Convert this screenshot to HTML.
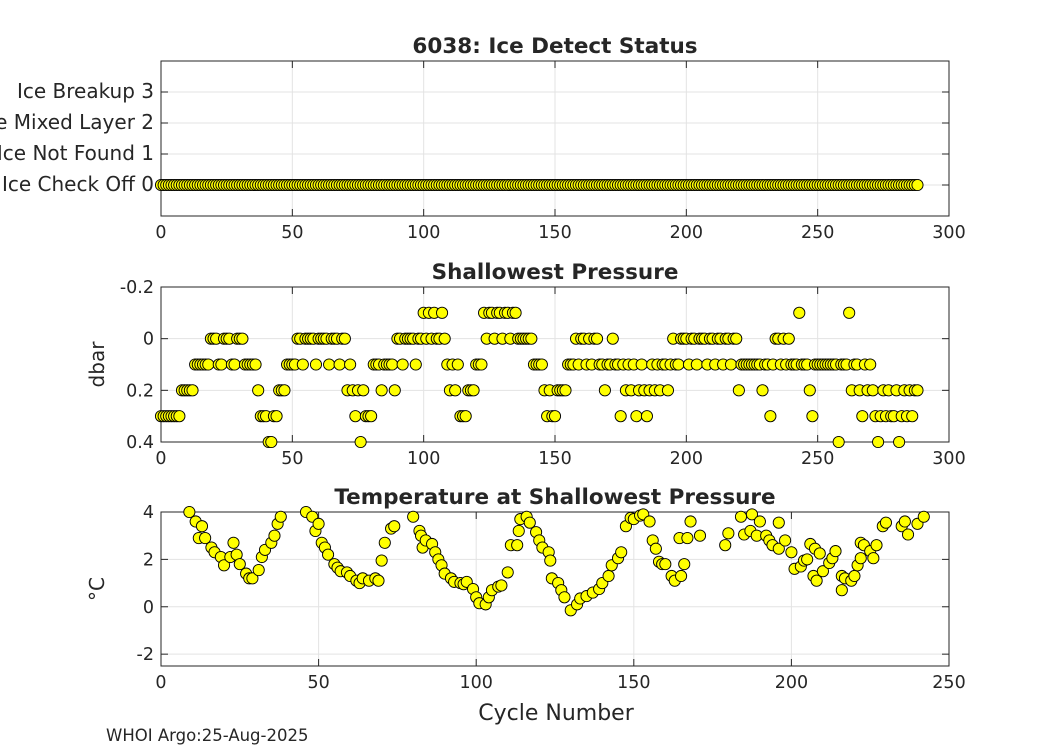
<!DOCTYPE html>
<html><head><meta charset="utf-8"><style>
body{margin:0;background:#fff;font-family:"Liberation Sans","DejaVu Sans",sans-serif}
svg text{font-family:"DejaVu Sans","Liberation Sans",sans-serif;fill:#262626}
</style></head><body>
<svg id="c" width="1050" height="750" xmlns="http://www.w3.org/2000/svg"></svg>
<script>
const iceCycles = Array.from({length:289},(_,i)=>i);
const iceValues = iceCycles.map(()=>0);
const iceTicks=[0,1,2,3];
const iceTickLabels=["Ice Check Off 0","Ice Not Found 1","Ice Mixed Layer 2","Ice Breakup 3"];
const presValues=[.3,.3,.3,.3,.3,.3,.3,.3,.2,.2,.2,.2,.2,.1,.1,.1,.1,.1,.1,
0,0,0,.1,.1,0,0,0,.1,.1,0,0,0,.1,
.1,.1,.1,.1,.2,.3,.3,.3,.4,.4,.3,.3,.2,.2,.2,.1,.1,.1,.1,
0,0,.1,0,0,0,0,.1,0,0,0,0,.1,0,0,0,.1,0,0,
.2,.1,.2,.3,.2,.4,.2,.3,.3,.3,
.1,.1,.1,.2,.1,.1,.1,.1,.2,
0,0,.1,0,0,0,0,.1,0,0,
-.1,0,-.1,0,-.1,0,0,-.1,0,
.1,.2,.1,.2,.1,.3,.3,.3,.2,.2,.2,.1,.1,.1,
-.1,0,-.1,-.1,0,-.1,-.1,0,-.1,-.1,0,-.1,-.1,
0,0,0,0,0,0,.1,.1,.1,.1,.2,
.3,.2,.3,.3,.2,.2,.2,.2,.1,.1,
.1,0,.1,0,0,.1,0,.1,0,0,.1,
.1,.2,.1,.1,0,.1,.1,.3,.1,
.2,.1,.2,.1,.3,.2,.1,.2,.3,.2,
.1,.2,.1,.2,.1,.1,.2,.1,0,.1,.1,
0,0,0,.1,0,0,.1,0,0,0,.1,0,0,.1,0,0,.1,0,0,.1,0,0,.2,.1,.1,
.1,.1,.1,.1,.1,.1,.2,.1,.1,.3,.1,0,0,.1,0,.1,0,.1,.1,.1,
-.1,.1,.1,.1,.2,.3,.1,.1,.1,.1,.1,.1,.1,.1,.1,
.4,.1,.1,.1,-.1,.2,.1,.1,.2,.3,.1,.2,.1,.2,.3,.4,.3,.2,.3,.2,.3,.3,.2,.4,.3,.2,.3,.2,.3,.2,.2];
const presTicks=[-0.2,0,0.2,0.4];
const presTickLabels=["-0.2","0","0.2","0.4"];
const tempCycles=[9,11,12,13,14,16,17,19,20,22,23,24,25,27,28,29,31,32,33,35,36,37,38,
46,48,49,50,51,52,53,55,56,57,59,60,62,63,64,66,68,69,70,71,73,74,
80,82,82.5,83,84,86,87,88,89,90,92,93,95,96,97,99,100,101,103,104,105,107,108,110,111,113,113.5,114,116,117,119,120,121,123,123.5,124,126,127,128,130,132,133,135,137,139,140,142,143,145,146,
147.5,149,150,152,153,155,156,157,158,159,160,162,163,165,166,164.5,167,168,171,179,180,184,185,187,187.5,189,190,192,193,194,196,196,198,200,201,203,204,205,206,207,207.5,208,209,210,212,213,214,216,216,217,219,220,221,222,222,223,225,226,227,229,230,235,236,237,240,242];
const tempValues=[4.0,3.6,2.9,3.4,2.9,2.5,2.3,2.1,1.75,2.1,2.7,2.2,1.8,1.4,1.2,1.2,1.55,2.1,2.4,2.7,3.0,3.5,3.8,
4.0,3.8,3.2,3.5,2.7,2.5,2.2,1.8,1.65,1.5,1.45,1.3,1.1,1.0,1.2,1.1,1.2,1.1,1.95,2.7,3.3,3.4,
3.8,3.2,3.0,2.5,2.8,2.65,2.3,2.0,1.75,1.4,1.2,1.05,1.0,0.95,1.05,0.75,0.4,0.15,0.1,0.4,0.7,0.85,0.9,1.45,2.6,2.6,3.2,3.7,3.8,3.55,3.15,2.8,2.5,2.3,1.95,1.2,1.0,0.7,0.4,-0.15,0.1,0.35,0.45,0.6,0.75,1.0,1.3,1.75,2.05,2.3,
3.4,3.75,3.7,3.85,3.9,3.6,2.8,2.45,1.9,1.8,1.8,1.3,1.1,1.3,1.8,2.9,2.9,3.6,3.0,2.6,3.1,3.8,3.05,3.2,3.9,3.0,3.6,3.0,2.8,2.6,3.55,2.45,2.8,2.3,1.6,1.7,1.95,2.0,2.65,1.3,2.45,1.1,2.25,1.5,1.85,2.05,2.35,1.3,0.7,1.2,1.1,1.3,1.75,2.05,2.7,2.6,2.35,2.05,2.6,3.4,3.55,3.4,3.6,3.05,3.5,3.8];
const tempTicks=[-2,0,2,4];
const xTicks300=[0,50,100,150,200,250,300];
const xTicks250=[0,50,100,150,200,250];

const svg=document.getElementById('c');
const NS='http://www.w3.org/2000/svg';
function mk(t,a,p){const e=document.createElementNS(NS,t);for(const k in a)e.setAttribute(k,a[k]);(p||svg).appendChild(e);return e;}
const L=161,R=949;
function panel(name,top,bot,xmax,ymin,ymax,rev,xt,yt,ytl,title,ylab,xs,ys,yfs){
  const g=mk('g',{});
  
  
  const sx=v=>L+(R-L)*v/xmax;
  const sy=rev?(v=>top+(bot-top)*(v-ymin)/(ymax-ymin)):(v=>bot-(bot-top)*(v-ymin)/(ymax-ymin));
  mk('rect',{x:L,y:top,width:R-L,height:bot-top,fill:'#fff'},g);
  xt.forEach(v=>{const x=sx(v);mk('line',{x1:x,x2:x,y1:top,y2:bot,stroke:'#e3e3e3'},g);
    mk('line',{x1:x,x2:x,y1:bot,y2:bot-7,stroke:'#262626'},g);mk('line',{x1:x,x2:x,y1:top,y2:top+7,stroke:'#262626'},g);
    const t=mk('text',{x:x,y:bot+22,'text-anchor':'middle','font-size':17.5},g);t.textContent=v;
    
    });
  yt.forEach((v,i)=>{const y=sy(v);mk('line',{x1:L,x2:R,y1:y,y2:y,stroke:'#e3e3e3'},g);
    mk('line',{x1:L,x2:L+7,y1:y,y2:y,stroke:'#262626'},g);mk('line',{x1:R,x2:R-7,y1:y,y2:y,stroke:'#262626'},g);
    const t=mk('text',{x:L-7,y:y+6,'text-anchor':'end','font-size':yfs},g);t.textContent=ytl[i];
    
    });
  mk('rect',{x:L,y:top,width:R-L,height:bot-top,fill:'none',stroke:'#262626','stroke-width':1},g);
  const tt=mk('text',{x:(L+R)/2,y:top-8,'text-anchor':'middle','font-size':21.5,'font-weight':'bold',fill:'#000'},g);tt.textContent=title;
  
  
  if(ylab){const yl=mk('text',{x:0,y:0,'text-anchor':'middle','font-size':20,transform:`translate(104,${(top+bot)/2}) rotate(-90)`},g);yl.textContent=ylab;
    
    }
  xs.forEach((xv,i)=>{const c=mk('circle',{cx:sx(xv),cy:sy(ys[i]),r:5.6,fill:'#ffff00',stroke:'#000','stroke-width':0.9},g);
    
    });
}
panel('ice-detect-panel',61,216,300,-1,4,false,xTicks300,iceTicks,iceTickLabels,'6038: Ice Detect Status','',iceCycles,iceValues,20);
panel('shallowest-pressure-panel',287,442,300,-0.2,0.4,true,xTicks300,presTicks,presTickLabels,'Shallowest Pressure','dbar',presValues.map((_,i)=>i),presValues,17.5);
panel('temperature-panel',512,666,250,-2.5,4,false,xTicks250,tempTicks,tempTicks.map(String),'Temperature at Shallowest Pressure','°C',tempCycles,tempValues,17.5);
const xl=mk('text',{x:556,y:720,'text-anchor':'middle','font-size':22});xl.textContent='Cycle Number';


const ft=mk('text',{x:106,y:741,'font-size':16.5,fill:'#000'});ft.textContent='WHOI Argo:25-Aug-2025';


</script>
</body></html>
